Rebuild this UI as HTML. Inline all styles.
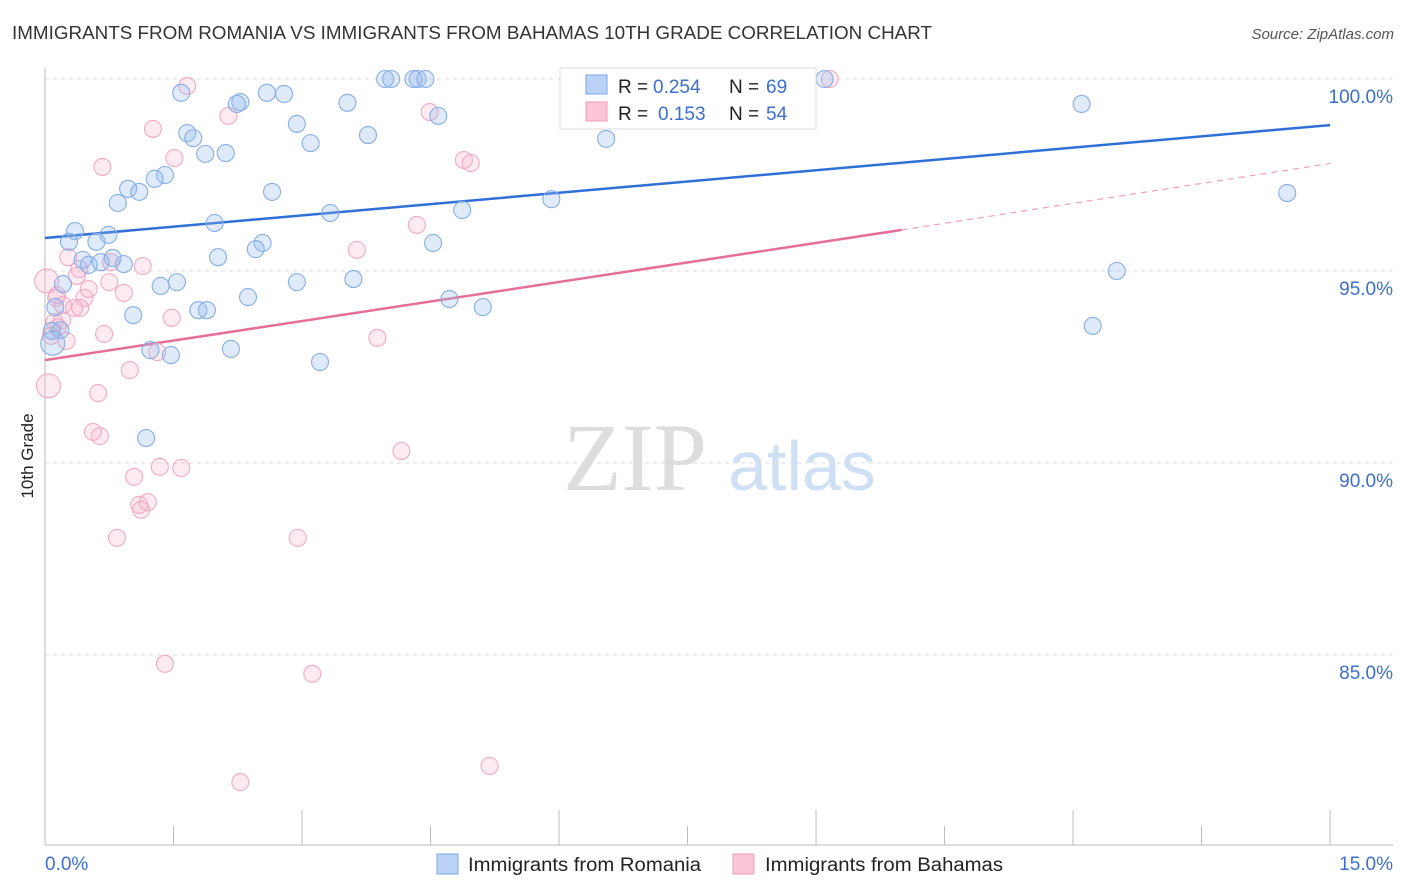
<!DOCTYPE html>
<html><head><meta charset="utf-8"><style>
body{margin:0;background:#fff;font-family:"Liberation Sans",sans-serif}
svg{display:block}
</style></head><body>
<svg width="1406" height="892" id="chart">
<text x="12" y="39" font-size="18" fill="#333" textLength="920" lengthAdjust="spacingAndGlyphs">IMMIGRANTS FROM ROMANIA VS IMMIGRANTS FROM BAHAMAS 10TH GRADE CORRELATION CHART</text>
<text x="1394" y="39" font-size="15" fill="#555" text-anchor="end" font-style="italic">Source: ZipAtlas.com</text>
<text x="33" y="456" font-size="17" fill="#222" text-anchor="middle" transform="rotate(-90 33 456)">10th Grade</text>
<g><text x="635" y="490" font-size="96" fill="#ddd" font-family="Liberation Serif,serif" text-anchor="middle">ZIP</text><text x="802" y="490" font-size="70" fill="#cfe0f5" text-anchor="middle">atlas</text></g>
<g id="grid"></g><g id="axes"></g><g id="lines"></g><g id="pts"></g>
<g>
<rect x="560" y="68" width="256" height="61" fill="#fff" stroke="#ddd"/>
<rect x="586" y="75" width="21" height="19" fill="#b9d2f5" stroke="#7aa5e4"/>
<text x="618" y="93" font-size="19" fill="#222">R =</text>
<text x="653" y="93" font-size="19" fill="#3b6fd0">0.254</text>
<text x="729" y="93" font-size="19" fill="#222">N =</text>
<text x="766" y="93" font-size="19" fill="#3b6fd0">69</text>
<rect x="586" y="102" width="21" height="19" fill="#fbc6d6" stroke="#ee9fb9"/>
<text x="618" y="120" font-size="19" fill="#222">R =</text>
<text x="658" y="120" font-size="19" fill="#3b6fd0">0.153</text>
<text x="729" y="120" font-size="19" fill="#222">N =</text>
<text x="766" y="120" font-size="19" fill="#3b6fd0">54</text>
</g>
<g>
<rect x="437" y="854" width="21" height="20" fill="#b9d2f5" stroke="#7aa5e4"/>
<text x="468" y="871" font-size="19" fill="#222" textLength="233" lengthAdjust="spacingAndGlyphs">Immigrants from Romania</text>
<rect x="733" y="854" width="21" height="20" fill="#fbc6d6" stroke="#ee9fb9"/>
<text x="765" y="871" font-size="19" fill="#222" textLength="238" lengthAdjust="spacingAndGlyphs">Immigrants from Bahamas</text>
</g>
</svg>
<script>
const yTicks=[100,95,90,85];
const yTickLabels=["100.0%","95.0%","90.0%","85.0%"];
const xTickCount=11;
const blueX=[1.59,2.28,2.59,2.79,3.97,4.04,4.30,4.35,4.44,6.36,9.10,12.10,3.53,2.24,2.94,1.66,1.73,3.10,3.77,4.59,1.87,2.11,6.55,1.40,1.28,0.97,1.10,0.85,2.65,5.91,14.50,3.33,4.87,1.98,0.35,0.74,0.28,0.60,2.54,2.46,4.53,2.02,0.44,0.79,0.51,0.65,0.92,12.51,0.21,1.35,1.54,2.94,3.60,2.37,4.72,0.12,1.03,1.79,1.89,5.11,12.23,0.18,0.08,1.23,1.47,2.17,3.21,1.18,0.09];
const blueY=[99.64,99.40,99.64,99.61,100,100,100,100,100,100,100,99.35,99.38,99.35,98.83,98.59,98.46,98.33,98.54,99.04,98.05,98.07,98.44,97.50,97.40,97.14,97.06,96.77,97.06,96.87,97.03,96.51,96.59,96.25,96.04,95.94,95.76,95.76,95.73,95.57,95.73,95.36,95.29,95.34,95.16,95.23,95.18,95.00,94.66,94.61,94.71,94.71,94.79,94.32,94.27,94.06,93.85,93.98,93.98,94.06,93.57,93.46,93.44,92.94,92.81,92.97,92.63,90.65,93.12];
const pinkX=[1.66,6.84,9.16,1.26,2.14,4.49,1.51,0.67,4.89,4.97,4.34,3.64,0.27,0.77,1.14,0.02,0.40,0.37,0.75,0.51,0.92,0.13,0.46,0.34,0.41,1.48,0.20,0.15,0.69,3.88,0.07,0.25,1.31,0.99,0.04,0.62,0.56,0.64,1.04,1.34,1.59,1.10,1.12,1.20,4.16,0.84,2.95,1.40,3.12,2.28,5.19,0.14,0.11,0.21];
const pinkY=[99.82,100,100,98.70,99.04,99.14,97.94,97.71,97.89,97.81,96.20,95.55,95.36,95.23,95.13,94.74,95.05,94.87,94.71,94.53,94.43,94.30,94.30,94.04,94.04,93.78,93.72,93.54,93.36,93.26,93.31,93.18,92.89,92.42,92.01,91.82,90.81,90.70,89.64,89.90,89.87,88.91,88.78,88.98,90.31,88.05,88.05,84.77,84.51,81.69,82.11,94.37,93.67,94.11];
const blueBig=[68];
const pinkBig=[15,34];
const blueTrend=[[0,95.86],[15,98.8]];
const pinkTrendSolid=[[0,92.68],[10.0,96.07]];
const pinkTrendDash=[[10.0,96.07],[15,97.8]];
const X=v=>45+v*85.67, Y=v=>79+(100-v)*38.4;
const NS="http://www.w3.org/2000/svg";
function mk(t,a,p){const e=document.createElementNS(NS,t);for(const k in a)e.setAttribute(k,a[k]);p.appendChild(e);return e;}
const grid=document.getElementById('grid'),axes=document.getElementById('axes'),lines=document.getElementById('lines'),pts=document.getElementById('pts');
yTicks.forEach((v,i)=>{
 const l=mk('line',{x1:45,x2:1393,y1:Y(v),y2:Y(v),stroke:'#ddd','stroke-dasharray':'4,4'},grid);
 
 
 const t=mk('text',{x:1393,y:Y(v)+24,'font-size':19,fill:'#3b6fd0','text-anchor':'end'},grid);
 t.textContent=yTickLabels[i];
 
 
});
const ya=mk('line',{x1:45,x2:45,y1:68,y2:845,stroke:'#bbb'},axes);


const xa=mk('line',{x1:45,x2:1393,y1:845,y2:845,stroke:'#bbb'},axes);


for(let i=1;i<xTickCount;i++){const v=i*1.5;
 const t=mk('line',{x1:X(v),x2:X(v),y1:i%2?826:810,y2:845,stroke:'#bbb'},axes);
 
 }
const xl0=mk('text',{x:45,y:870,'font-size':19,fill:'#3b6fd0'},axes);xl0.textContent='0.0%';


const xl1=mk('text',{x:1393,y:870,'font-size':19,fill:'#3b6fd0','text-anchor':'end'},axes);xl1.textContent='15.0%';


function pts2(d,col,w,dash,name){const l=mk('line',{x1:X(d[0][0]),y1:Y(d[0][1]),x2:X(d[1][0]),y2:Y(d[1][1]),stroke:col,'stroke-width':w},lines);if(dash)l.setAttribute('stroke-dasharray',dash);
 
 }
function dots(xs,ys,big,fill,stroke,name){xs.forEach((x,i)=>{const c=mk('circle',{cx:X(x),cy:Y(ys[i]),r:big.includes(i)?12:8.5,fill:fill,stroke:stroke,'stroke-width':1.1},pts);
 
 });}
dots(pinkX,pinkY,pinkBig,'rgba(248,175,200,0.25)','#f2aac2','bahamas-point');
dots(blueX,blueY,blueBig,'rgba(150,185,240,0.3)','#86aee8','romania-point');
pts2(blueTrend,'#2f6fd6',2.5,null,'romania-trendline');
pts2(pinkTrendSolid,'#e66f98',2.5,null,'bahamas-trendline');
pts2(pinkTrendDash,'#eea0b8',1.2,'6,5','bahamas-trendline-extension');
</script>
</body></html>
